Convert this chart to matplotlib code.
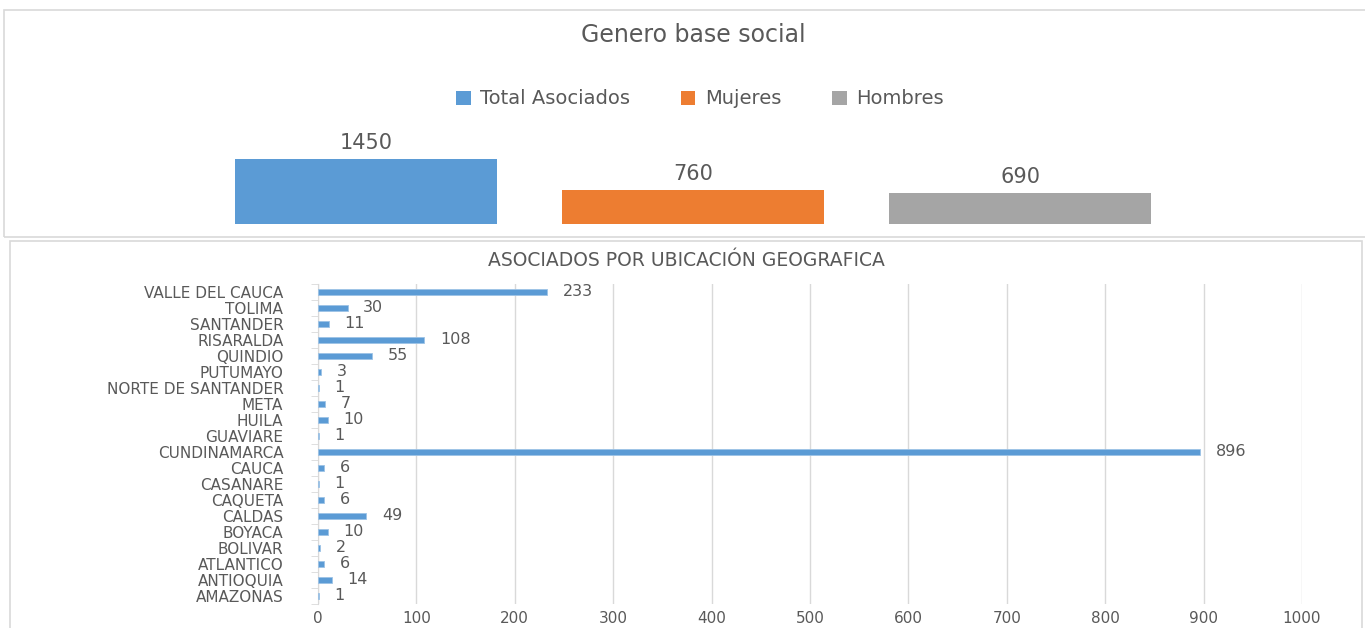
import matplotlib
matplotlib.use("Agg")
import matplotlib.pyplot as plt
from matplotlib.patches import Patch, Rectangle
import numpy as np

# top chart: gender
gen_labels = ["Total Asociados", "Mujeres", "Hombres"]
gen_values = [1450, 760, 690]
gen_colors = ["#5B9BD5", "#ED7D31", "#A5A5A5"]

# bottom chart: associates by department (bottom to top)
departamentos = ["AMAZONAS", "ANTIOQUIA", "ATLANTICO", "BOLIVAR", "BOYACA",
                 "CALDAS", "CAQUETA", "CASANARE", "CAUCA", "CUNDINAMARCA",
                 "GUAVIARE", "HUILA", "META", "NORTE DE SANTANDER", "PUTUMAYO",
                 "QUINDIO", "RISARALDA", "SANTANDER", "TOLIMA", "VALLE DEL CAUCA"]
asociados = [1, 14, 6, 2, 10, 49, 6, 1, 6, 896,
             1, 10, 7, 1, 3, 55, 108, 11, 30, 233]
x_ticks = [0, 100, 200, 300, 400, 500, 600, 700, 800, 900, 1000]

plt.rcParams["font.family"] = ["DejaVu Sans"]
TXT = "#595959"
GRID = "#D9D9D9"
W, H = 1365, 628

fig = plt.figure(figsize=(W / 100, H / 100), dpi=100)
fig.patch.set_facecolor("white")

# chart frames
fig.add_artist(Rectangle((4 / W, 1 - 237 / H), 1.0, (237 - 10) / H,
                         transform=fig.transFigure, fill=False,
                         edgecolor=GRID, linewidth=1.2))
fig.add_artist(Rectangle((10 / W, -0.02), (1362 - 10) / W, 1 - 241 / H + 0.02,
                         transform=fig.transFigure, fill=False,
                         edgecolor=GRID, linewidth=1.2))

# ---- top chart ----
fig.text(693 / W, 1 - 35 / H, "Genero base social", ha="center", va="center",
         fontsize=17, color=TXT)
handles = [Patch(facecolor=c, label=l) for l, c in zip(gen_labels, gen_colors)]
fig.legend(handles=handles, loc="center", bbox_to_anchor=(700 / W, 1 - 99 / H),
           ncol=3, frameon=False, fontsize=14, handlelength=0.75,
           handleheight=0.75, handletextpad=0.5, columnspacing=2.6,
           labelcolor=TXT)

ax1 = fig.add_axes([202.5 / W, 1 - 224 / H, 981 / W, 94 / H])
x = np.arange(len(gen_values))
ax1.bar(x, gen_values, width=0.8, color=gen_colors)
for xi, v in zip(x, gen_values):
    ax1.text(xi, v + 130, str(v), ha="center", va="bottom", fontsize=15, color=TXT)
ax1.set_xlim(-0.5, 2.5)
ax1.set_ylim(0, 2100)
ax1.axis("off")

# ---- bottom chart ----
fig.text(686 / W, 1 - 260 / H, "ASOCIADOS POR UBICACIÓN GEOGRAFICA",
         ha="center", va="center", fontsize=13.5, color=TXT)

ax2 = fig.add_axes([318 / W, 1 - 604 / H, 984 / W, 320 / H])
y = np.arange(len(departamentos))
ax2.barh(y, asociados, height=0.33, color="#5B9BD5", edgecolor="#9DC3E6",
         linewidth=0.6, zorder=3)
for yi, v in zip(y, asociados):
    ax2.text(v + 16, yi, str(v), ha="left", va="center", fontsize=11.5, color=TXT)
ax2.set_xlim(0, 1000)
ax2.set_ylim(-0.5, len(departamentos) - 0.5)
ax2.set_xticks(x_ticks)
ax2.set_xticklabels([str(t) for t in x_ticks])
ax2.set_yticks(y)
ax2.set_yticklabels(departamentos)
ax2.set_yticks(np.arange(-0.5, len(departamentos)), minor=True)
ax2.tick_params(axis="y", which="major", length=0, pad=25, labelsize=11,
                labelcolor=TXT)
ax2.tick_params(axis="y", which="minor", length=5, color=GRID, direction="out")
ax2.tick_params(axis="x", length=0, pad=5, labelsize=11, labelcolor=TXT)
ax2.grid(True, axis="x", color=GRID, linewidth=1, zorder=0)
for s in ["top", "right", "bottom"]:
    ax2.spines[s].set_visible(False)
ax2.spines["left"].set_color(GRID)
ax2.set_facecolor("none")

fig.savefig("out.png", dpi=100)
